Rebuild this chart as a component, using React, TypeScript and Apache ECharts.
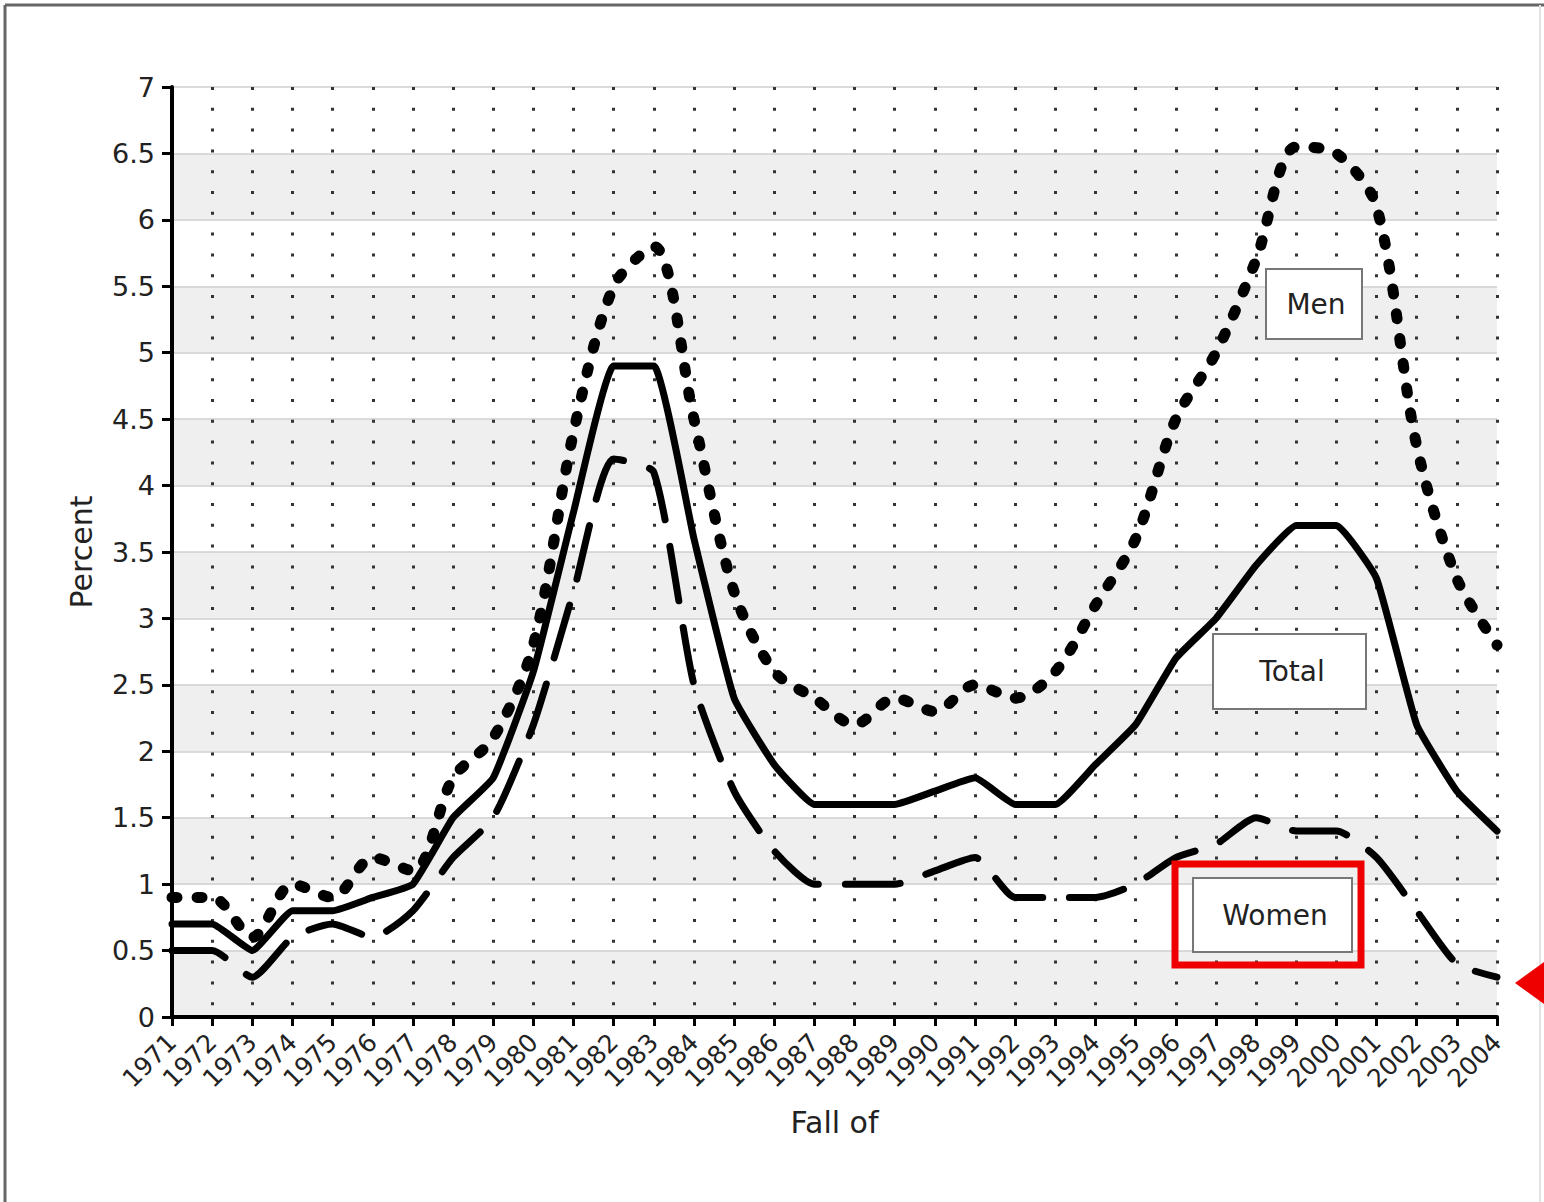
import React, { useEffect, useRef } from "react";
import * as echarts from "echarts";

const years = [
  "1971", "1972", "1973", "1974", "1975", "1976", "1977", "1978", "1979", "1980",
  "1981", "1982", "1983", "1984", "1985", "1986", "1987", "1988", "1989", "1990",
  "1991", "1992", "1993", "1994", "1995", "1996", "1997", "1998", "1999", "2000",
  "2001", "2002", "2003", "2004",
];

const totalValues = [
  0.7, 0.7, 0.5, 0.8, 0.8, 0.9, 1.0, 1.5, 1.8, 2.6,
  3.8, 4.9, 4.9, 3.6, 2.4, 1.9, 1.6, 1.6, 1.6, 1.7,
  1.8, 1.6, 1.6, 1.9, 2.2, 2.7, 3.0, 3.4, 3.7, 3.7,
  3.3, 2.2, 1.7, 1.4,
];

const menValues = [
  0.9, 0.9, 0.6, 1.0, 0.9, 1.2, 1.1, 1.8, 2.1, 2.8,
  4.4, 5.5, 5.8, 4.5, 3.2, 2.6, 2.4, 2.2, 2.4, 2.3,
  2.5, 2.4, 2.6, 3.1, 3.6, 4.5, 5.0, 5.7, 6.55, 6.5,
  6.1, 4.3, 3.3, 2.8,
];

const womenValues = [
  0.5, 0.5, 0.3, 0.6, 0.7, 0.6, 0.8, 1.2, 1.5, 2.2,
  3.2, 4.2, 4.1, 2.5, 1.7, 1.25, 1.0, 1.0, 1.0, 1.1,
  1.2, 0.9, 0.9, 0.9, 1.0, 1.2, 1.3, 1.5, 1.4, 1.4,
  1.2, 0.8, 0.4, 0.3,
];

const seriesLabels = ["Total", "Men", "Women"];

const FONT = "'DejaVu Sans', Verdana, sans-serif";

function labelBox(x: number, y: number, w: number, h: number, text: string, tx: number, ty: number) {
  return [
    {
      type: "rect",
      z: 100,
      shape: { x, y, width: w, height: h },
      style: { fill: "#fff", stroke: "#777", lineWidth: 2 },
    },
    {
      type: "text",
      z: 101,
      x: tx,
      y: ty,
      style: {
        text,
        fill: "#222",
        fontFamily: FONT,
        fontSize: 28,
        align: "center",
        verticalAlign: "middle",
      },
    },
  ];
}

export default function App() {
  const ref = useRef<HTMLDivElement>(null);

  useEffect(() => {
    if (!ref.current) return;
    const chart = echarts.init(ref.current, undefined, { renderer: "svg" });
    chart.setOption({
      animation: false,
      backgroundColor: "#fff",
      grid: { left: 172, right: 47, top: 87, bottom: 185, containLabel: false },
      xAxis: {
        type: "category",
        data: years,
        boundaryGap: false,
        name: "Fall of",
        nameLocation: "middle",
        nameGap: 90,
        nameTextStyle: { fontFamily: FONT, fontSize: 30, color: "#222" },
        axisLine: { lineStyle: { color: "#000", width: 4 } },
        axisTick: { show: true, length: 9, interval: 0, lineStyle: { color: "#000", width: 3 } },
        axisLabel: {
          interval: 0,
          rotate: 45,
          margin: 21,
          fontFamily: FONT,
          fontSize: 25,
          color: "#222",
        },
        splitLine: {
          show: true,
          interval: 0,
          lineStyle: { color: "#333", width: 3, type: [3, 17.8] },
        },
      },
      yAxis: {
        type: "value",
        min: 0,
        max: 7,
        interval: 0.5,
        name: "Percent",
        nameLocation: "middle",
        nameGap: 76,
        nameRotate: 90,
        nameTextStyle: { fontFamily: FONT, fontSize: 30, color: "#222" },
        axisLine: { show: true, lineStyle: { color: "#000", width: 4 } },
        axisTick: { show: true, length: 10, lineStyle: { color: "#000", width: 3 } },
        axisLabel: { margin: 17, fontFamily: FONT, fontSize: 27, color: "#222" },
        splitLine: { show: true, lineStyle: { color: "#cfcfcf", width: 1.5 } },
        splitArea: { show: true, areaStyle: { color: ["#efefef", "#ffffff"] } },
      },
      series: [
        {
          name: seriesLabels[0],
          type: "line",
          data: totalValues,
          smooth: 0.12,
          symbol: "none",
          z: 5,
          lineStyle: { color: "#000", width: 7, cap: "round", join: "round" },
        },
        {
          name: seriesLabels[1],
          type: "line",
          data: menValues,
          smooth: 0.3,
          symbol: "none",
          z: 4,
          lineStyle: { color: "#000", width: 11, type: [5, 20], cap: "round", join: "round" },
        },
        {
          name: seriesLabels[2],
          type: "line",
          data: womenValues,
          smooth: 0.2,
          symbol: "none",
          z: 4,
          lineStyle: { color: "#000", width: 7, type: [55, 27], cap: "round", join: "round" },
        },
      ],
      graphic: [
        { type: "line", shape: { x1: 5, y1: 5, x2: 1544, y2: 5 }, style: { stroke: "#666", lineWidth: 3 } },
        { type: "line", shape: { x1: 5, y1: 5, x2: 5, y2: 1202 }, style: { stroke: "#666", lineWidth: 3 } },
        { type: "line", shape: { x1: 1540, y1: 5, x2: 1540, y2: 1202 }, style: { stroke: "#e2e2e2", lineWidth: 2 } },
        ...labelBox(1266, 269, 96, 70, seriesLabels[1], 1316, 304),
        ...labelBox(1213, 634, 153, 75, seriesLabels[0], 1292, 671),
        ...labelBox(1193, 878, 159, 74, seriesLabels[2], 1275, 915),
        {
          type: "rect",
          z: 110,
          shape: { x: 1175, y: 864, width: 186, height: 101 },
          style: { fill: "none", stroke: "#ee0000", lineWidth: 7 },
        },
        {
          type: "polygon",
          z: 110,
          shape: { points: [[1515, 983], [1544, 962], [1544, 1004]] },
          style: { fill: "#ee0000" },
        },
      ],
    });
    return () => chart.dispose();
  }, []);

  return (
    <div
      ref={ref}
      style={{ position: "absolute", left: 0, top: 0, width: 1544, height: 1202 }}
    />
  );
}
